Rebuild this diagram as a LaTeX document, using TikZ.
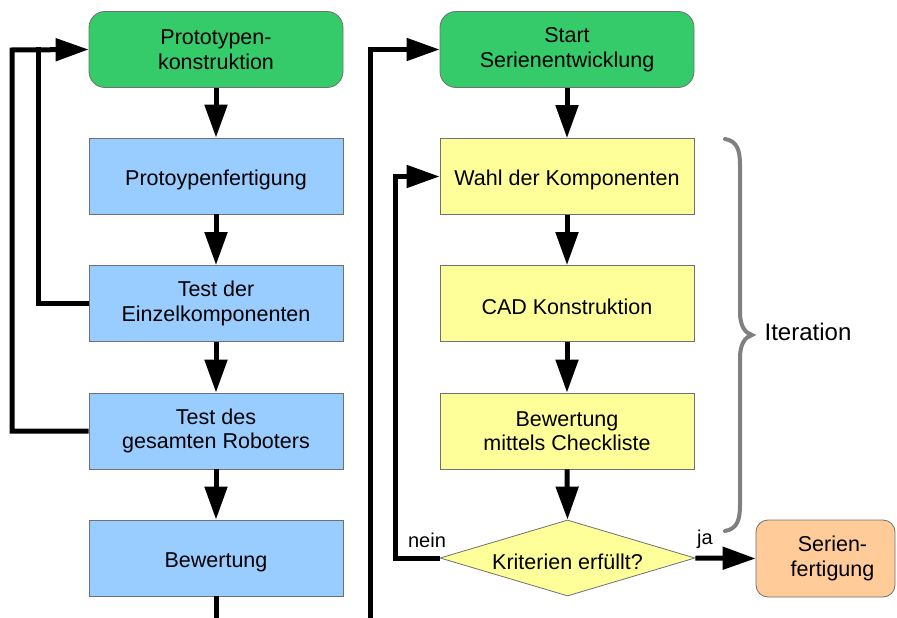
\documentclass[tikz,border=0pt]{standalone}
\usepackage{fontspec}
\setmainfont{Liberation Sans}
\usetikzlibrary{arrows.meta,shapes.geometric}
\definecolor{cgreen}{HTML}{35CB6A}
\definecolor{cblue}{HTML}{99CCFF}
\definecolor{cyellow}{HTML}{FFFF99}
\definecolor{corange}{HTML}{FFCC99}
\definecolor{cborder}{HTML}{707070}
\definecolor{cbrace}{HTML}{808080}
\tikzset{
  box/.style={draw=cborder, line width=0.8pt, minimum width=254pt, minimum height=76pt,
    align=center, inner sep=0pt, font=\fontsize{21.5pt}{24.5pt}\selectfont,
    execute at begin node={\rule{0pt}{23pt}}},
  greenbox/.style={box, fill=cgreen, rounded corners=16pt},
  bluebox/.style={box, fill=cblue},
  yellowbox/.style={box, fill=cyellow},
  decbox/.style={box, diamond, aspect=3.35, fill=cyellow, minimum width=255pt, minimum height=76pt},
  endbox/.style={box, fill=corange, rounded corners=12pt, minimum width=139pt, minimum height=77pt},
  flow/.style={line width=5pt, -{Triangle[length=33pt,width=22pt]}},
  plainline/.style={line width=5pt},
  lbl/.style={inner sep=0pt, font=\fontsize{20pt}{24pt}\selectfont},
  bigl/.style={inner sep=0pt, font=\fontsize{24pt}{27pt}\selectfont},
  bracestyle/.style={draw=cbrace, line width=4pt, line cap=round},
}
\begin{document}
\begin{tikzpicture}[x=1pt, y=-1pt]
\useasboundingbox (0,0) rectangle (897,618);
% left column
\node[greenbox] (proto) at (216,49.5) {Prototypen-\\konstruktion};
\node[bluebox] (fert) at (216,176) {Protoypenfertigung};
\node[bluebox] (tEinzel) at (216,303.5) {Test der\\Einzelkomponenten};
\node[bluebox] (tGesamt) at (216,431) {Test des\\gesamten Roboters};
\node[bluebox] (bew) at (216,558) {Bewertung};
% right column
\node[greenbox] (start) at (567,49.5) {Start\\Serienentwicklung};
\node[yellowbox] (wahl) at (567,176.5) {Wahl der Komponenten};
\node[yellowbox] (cad) at (567,303.5) {CAD Konstruktion};
\node[yellowbox] (check) at (567,431) {Bewertung\\mittels Checkliste};
\node[decbox] (krit) at (567.5,558) {Kriterien erfüllt?};
\node[endbox] (serie) at (825.5,558.5) {\hspace*{14pt}Serien-\\\hspace*{14pt}fertigung};
% labels
\node[lbl] (nein) at (427,540) {nein};
\node[lbl] (ja) at (705,539) {ja};
\node[bigl] (iter) at (808,332) {Iteration};
% coordinates
\coordinate (L1) at (12,50);
\coordinate (L2) at (38,47.5);
\coordinate (B0) at (216,622);
\coordinate (R0) at (370,622);
\coordinate (R1) at (395,558);
% left arrows
\draw[flow] (proto.south) -- (fert.north);
\draw[flow] (fert.south) -- (tEinzel.north);
\draw[flow] (tEinzel.south) -- (tGesamt.north);
\draw[flow] (tGesamt.south) -- (bew.north);
\draw[plainline] (bew.south) -- (B0);
\draw[flow] (tGesamt.west) -| (L1) -- (proto.west);
\draw[plainline] (tEinzel.west) -| (L2);
% right arrows
\draw[flow] (start.south) -- (wahl.north);
\draw[flow] (wahl.south) -- (cad.north);
\draw[flow] (cad.south) -- (check.north);
\draw[flow] (check.south) -- (krit.north);
\draw[flow] (R0) |- (start.west);
\draw[flow] (krit.west) -- (R1) |- (wahl.west);
\draw[flow] (krit.east) -- (serie.west);
% brace
\draw[bracestyle] (725,139) .. controls (737,141) and (740,150) .. (740,165) -- (740,312)
  .. controls (740,326) and (745,333) .. (752,335) .. controls (745,337) and (740,344) .. (740,358)
  -- (740,505) .. controls (740,520) and (737,529) .. (725,531);
\end{tikzpicture}
\end{document}
